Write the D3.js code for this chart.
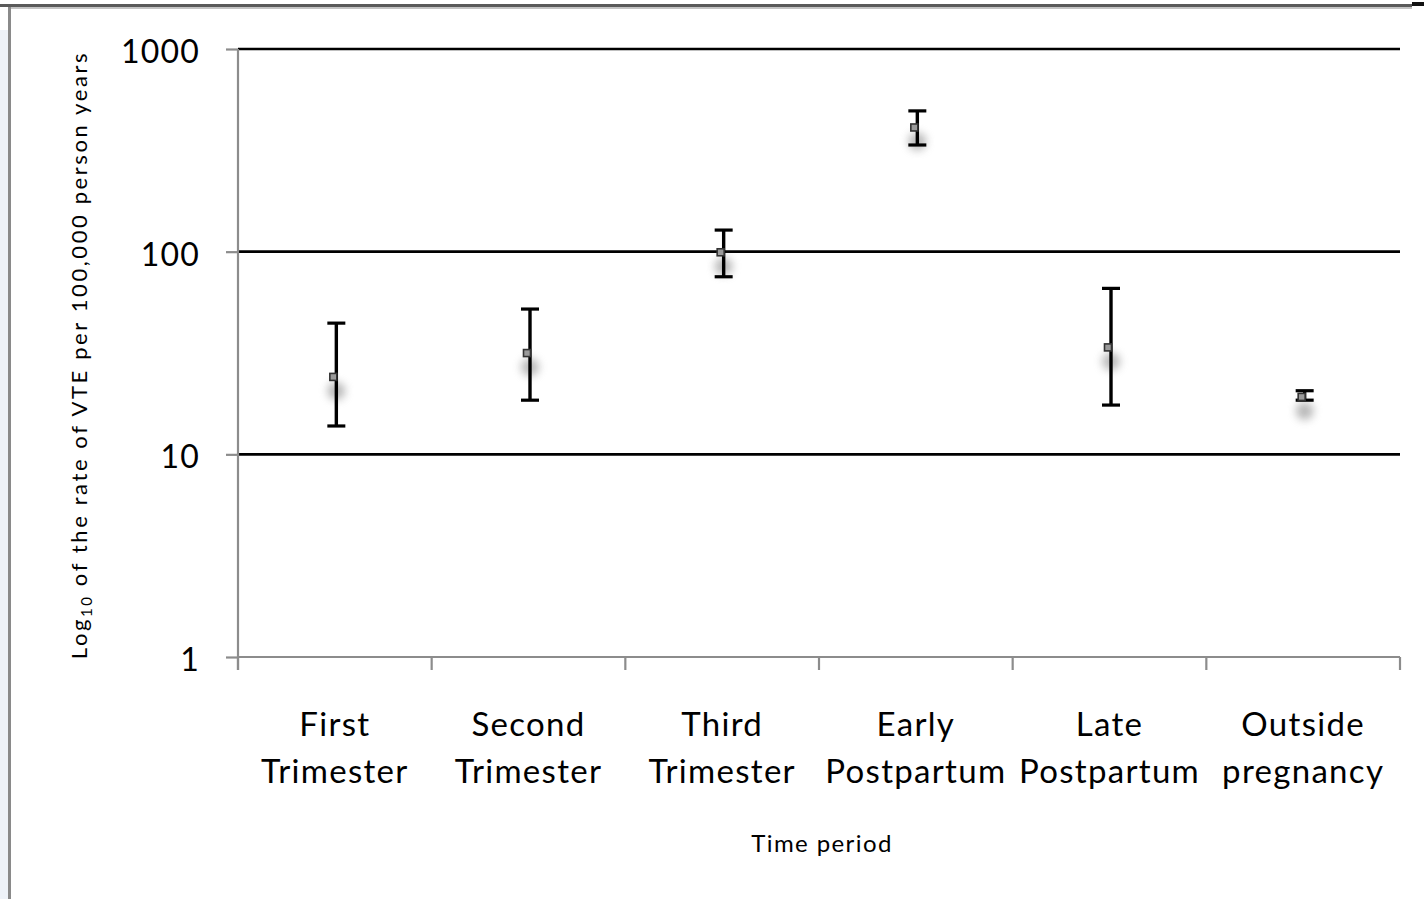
<!DOCTYPE html>
<html>
<head>
<meta charset="utf-8">
<script src="https://cdn.jsdelivr.net/npm/d3@7/dist/d3.min.js"></script>
<style>
  html, body { margin: 0; padding: 0; background: #ffffff; }
  svg { display: block; }
  text { font-family: Lato, "Open Sans", sans-serif; fill: #000; }
</style>
</head>
<body>
<svg id="chart" width="1426" height="899"></svg>
<script>
// Time periods (two-line labels)
const periods = [
  ["First", "Trimester"],
  ["Second", "Trimester"],
  ["Third", "Trimester"],
  ["Early", "Postpartum"],
  ["Late", "Postpartum"],
  ["Outside", "pregnancy"]
];
// VTE rate per 100,000 person years, with 95% CI
const rate  = [24.1, 31.6, 99.3, 410, 33.7, 19.2];
const lower = [13.8, 18.5, 75.2, 336, 17.5, 18.5];
const upper = [44.4, 52.1, 127.8, 495, 65.9, 20.6];
const yTicks = [1, 10, 100, 1000];

const svg = d3.select("#chart");
const W = 1426, H = 899;

// Frame around the chart object
svg.append("rect").attr("x", 0).attr("y", 30).attr("width", 8).attr("height", H - 30)
  .attr("fill", "#eef2f8");
svg.append("line").attr("x1", 0).attr("x2", 1412).attr("y1", 5.5).attr("y2", 5.5)
  .attr("stroke", "#5a5a5a").attr("stroke-width", 3);
svg.append("line").attr("x1", 8).attr("x2", 1412).attr("y1", 8).attr("y2", 8)
  .attr("stroke", "#b0b0b0").attr("stroke-width", 1.5);
svg.append("line").attr("x1", 9.5).attr("x2", 9.5).attr("y1", 7).attr("y2", H)
  .attr("stroke", "#8a8a8a").attr("stroke-width", 3);
svg.append("rect").attr("x", 1412).attr("y", 2).attr("width", 12).attr("height", 4)
  .attr("fill", "#111");

const plotL = 238, plotR = 1400, plotT = 49, plotB = 657;

const x = d3.scaleBand().domain(d3.range(periods.length)).range([plotL, plotR]);
const y = d3.scaleLog().domain([1, 1000]).range([plotB, plotT]);

const defs = svg.append("defs");
defs.append("filter").attr("id", "soft").attr("x", "-100%").attr("y", "-100%")
  .attr("width", "300%").attr("height", "300%")
  .append("feGaussianBlur").attr("stdDeviation", 4.5);

// Horizontal gridlines (black) above 1
svg.append("g").selectAll("line").data(yTicks.filter(d => d > 1)).join("line")
  .attr("x1", plotL).attr("x2", plotR)
  .attr("y1", d => y(d)).attr("y2", d => y(d))
  .attr("stroke", "#000").attr("stroke-width", 2.6);

// Y axis
const yAxis = svg.append("g").attr("transform", `translate(${plotL},0)`)
  .call(d3.axisLeft(y).tickValues(yTicks).tickFormat(d3.format("d")).tickSize(12).tickPadding(26));
yAxis.select(".domain").attr("stroke", "#8c8c8c").attr("stroke-width", 2.2)
  .attr("d", `M0,${plotT}V${plotB + 13}`);
yAxis.selectAll(".tick line").attr("stroke", "#8c8c8c").attr("stroke-width", 2.2);
yAxis.selectAll(".tick text").attr("font-size", 32).attr("dy", "0.42em")
  .attr("letter-spacing", 1.2).attr("fill", "#000")
  .style("font-family", "Lato, sans-serif");

// X axis
const tickPos = d3.range(periods.length + 1).map(i => plotL + i * x.step());
const xg = svg.append("g");
xg.append("line").attr("x1", plotL).attr("x2", plotR).attr("y1", plotB).attr("y2", plotB)
  .attr("stroke", "#8c8c8c").attr("stroke-width", 2.2);
xg.selectAll("line.tk").data(tickPos).join("line").attr("class", "tk")
  .attr("x1", d => d).attr("x2", d => d).attr("y1", plotB).attr("y2", plotB + 13)
  .attr("stroke", "#8c8c8c").attr("stroke-width", 2.2);

const labels = svg.append("g").selectAll("text").data(periods).join("text")
  .attr("text-anchor", "middle").attr("font-size", 33).attr("letter-spacing", 1.3)
  .attr("x", (d, i) => x(i) + x.bandwidth() / 2);
labels.selectAll("tspan").data(d => d).join("tspan")
  .attr("x", function() { return this.parentNode.getAttribute("x"); })
  .attr("y", (d, j) => 736 + j * 47)
  .text(d => d);

// Axis titles
svg.append("text").attr("x", 822).attr("y", 852).attr("text-anchor", "middle")
  .attr("font-size", 24).attr("letter-spacing", 1.4).text("Time period");

const yt = svg.append("text")
  .attr("transform", `translate(87,${(plotT + plotB) / 2 + 2}) rotate(-90)`)
  .attr("text-anchor", "middle").attr("font-size", 22).attr("letter-spacing", 2.6);
yt.append("tspan").text("Log");
yt.append("tspan").attr("font-size", 15).attr("dy", 5).text("10");
yt.append("tspan").attr("dy", -5).text(" of the rate of VTE per 100,000 person years");

// Marker shadows, error bars, markers
const cx = i => x(i) + x.bandwidth() / 2;
const pts = svg.append("g");
pts.selectAll("ellipse").data(rate).join("ellipse")
  .attr("cx", (d, i) => cx(i) + 1.5).attr("cy", d => y(d) + 14)
  .attr("rx", 9).attr("ry", 9).attr("fill", "#8a8a8a").attr("opacity", 0.6)
  .attr("filter", "url(#soft)");

const bars = pts.selectAll("g.eb").data(rate).join("g").attr("class", "eb");
bars.append("line")
  .attr("x1", (d, i) => cx(i) + 1.5).attr("x2", (d, i) => cx(i) + 1.5)
  .attr("y1", (d, i) => y(upper[i])).attr("y2", (d, i) => y(lower[i]))
  .attr("stroke", "#000").attr("stroke-width", 3.4);
[upper, lower].forEach(arr => {
  bars.append("line")
    .attr("x1", (d, i) => cx(i) + 1.5 - 9).attr("x2", (d, i) => cx(i) + 1.5 + 9)
    .attr("y1", (d, i) => y(arr[i])).attr("y2", (d, i) => y(arr[i]))
    .attr("stroke", "#000").attr("stroke-width", 3.2);
});

pts.selectAll("rect.mk").data(rate).join("rect").attr("class", "mk")
  .attr("x", (d, i) => cx(i) - 1.5 - 3.5).attr("y", d => y(d) - 3.5)
  .attr("width", 7).attr("height", 7)
  .attr("fill", "#9a9a9a").attr("stroke", "#333").attr("stroke-width", 1.6);
</script>
</body>
</html>
